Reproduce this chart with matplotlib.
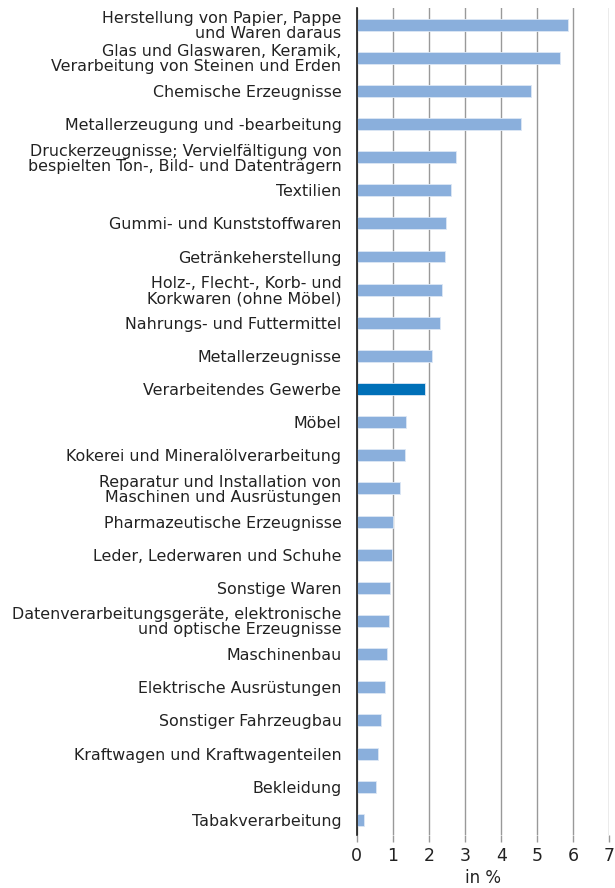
import numpy as np
import matplotlib
matplotlib.use('Agg')
import matplotlib.pyplot as plt

plt.rcParams['font.family'] = ['DejaVu Sans']

# categories top to bottom
categories = [
    'Herstellung von Papier, Pappe\nund Waren daraus',
    'Glas und Glaswaren, Keramik,\nVerarbeitung von Steinen und Erden',
    'Chemische Erzeugnisse',
    'Metallerzeugung und -bearbeitung',
    'Druckerzeugnisse; Vervielfältigung von\nbespielten Ton-, Bild- und Datenträgern',
    'Textilien',
    'Gummi- und Kunststoffwaren',
    'Getränkeherstellung',
    'Holz-, Flecht-, Korb- und\nKorkwaren (ohne Möbel)',
    'Nahrungs- und Futtermittel',
    'Metallerzeugnisse',
    'Verarbeitendes Gewerbe',
    'Möbel',
    'Kokerei und Mineralölverarbeitung',
    'Reparatur und Installation von\nMaschinen und Ausrüstungen',
    'Pharmazeutische Erzeugnisse',
    'Leder, Lederwaren und Schuhe',
    'Sonstige Waren',
    'Datenverarbeitungsgeräte, elektronische\nund optische Erzeugnisse',
    'Maschinenbau',
    'Elektrische Ausrüstungen',
    'Sonstiger Fahrzeugbau',
    'Kraftwagen und Kraftwagenteilen',
    'Bekleidung',
    'Tabakverarbeitung',
]
values = [5.85, 5.62, 4.82, 4.54, 2.74, 2.61, 2.47, 2.45, 2.35, 2.31, 2.09,
          1.89, 1.36, 1.34, 1.21, 1.00, 0.99, 0.92, 0.89, 0.85, 0.77, 0.67,
          0.58, 0.54, 0.19]
highlight = 'Verarbeitendes Gewerbe'
ticks = [0, 1, 2, 3, 4, 5, 6, 7]

light = '#8aafdc'
dark = '#0070b8'

fig = plt.figure(figsize=(6.15, 8.88), dpi=100)
ax = fig.add_axes([0.58, 0.06, 0.411, 0.931])

y = np.arange(len(categories))
colors = [dark if c == highlight else light for c in categories]
ax.barh(y, values, height=0.36, color=colors, edgecolor='#dce7f5',
        linewidth=0.6, zorder=3)

ax.set_ylim(len(categories) - 0.55, -0.5)
ax.set_xlim(0, 7)
ax.set_xticks(ticks)
ax.set_yticks(y)
ax.set_yticklabels(categories, fontsize=11.4, linespacing=1.0)
ax.tick_params(axis='y', length=0, pad=11, colors='#222222')
ax.tick_params(axis='x', length=5, width=1, color='#999999', labelsize=12.5,
               labelcolor='#222222', pad=4)
for lbl in ax.get_yticklabels():
    lbl.set_horizontalalignment('right')

ax.grid(axis='x', color='#999999', linewidth=1.0, zorder=0)
for s in ['top', 'right', 'bottom']:
    ax.spines[s].set_visible(False)
ax.spines['left'].set_color('#1a1a1a')
ax.spines['left'].set_linewidth(1.2)
ax.spines['left'].set_zorder(4)

ax.set_xlabel('in %', fontsize=12, color='#222222', labelpad=3)

fig.savefig('out.png', dpi=100)
